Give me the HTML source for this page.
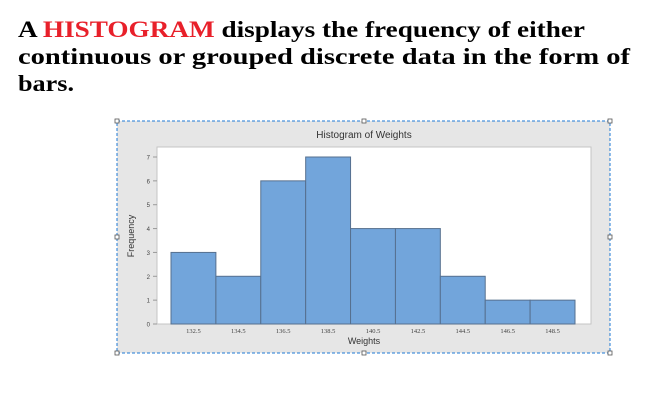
<!DOCTYPE html>
<html><head><meta charset="utf-8"><style>
html,body{margin:0;padding:0;background:#fff;width:669px;height:413px;overflow:hidden}
svg{display:block}
</style></head><body>
<svg width="669" height="413" viewBox="0 0 669 413" xmlns="http://www.w3.org/2000/svg">
<g font-family="Liberation Serif, serif" font-weight="bold" font-size="23">
<text x="18" y="37" textLength="567" lengthAdjust="spacingAndGlyphs">A <tspan fill="#e8202a">HISTOGRAM</tspan> displays the frequency of either</text>
<text x="18" y="64" textLength="612" lengthAdjust="spacingAndGlyphs">continuous or grouped discrete data in the form of</text>
<text x="18" y="91" textLength="56" lengthAdjust="spacingAndGlyphs">bars.</text>
</g>
<rect x="117" y="121" width="493" height="232" fill="#e6e6e6" stroke="#1f7ad6" stroke-dasharray="3,2" stroke-width="1"/>
<g fill="#fff" stroke="#555" stroke-width="0.8">
<rect x="115" y="119" width="4" height="4"/><rect x="362" y="119" width="4" height="4"/><rect x="608" y="119" width="4" height="4"/>
<rect x="115" y="235" width="4" height="4"/><rect x="608" y="235" width="4" height="4"/>
<rect x="115" y="351" width="4" height="4"/><rect x="362" y="351" width="4" height="4"/><rect x="608" y="351" width="4" height="4"/>
</g>
<rect x="157" y="147" width="434" height="177" fill="#fff" stroke="#c4c4c4"/>
<text x="364" y="138" font-family="Liberation Sans, sans-serif" font-size="10" text-anchor="middle" fill="#333">Histogram of Weights</text>
<text x="364" y="344" font-family="Liberation Sans, sans-serif" font-size="9" text-anchor="middle" fill="#333">Weights</text>
<text transform="translate(134,236) rotate(-90)" font-family="Liberation Sans, sans-serif" font-size="9" text-anchor="middle" fill="#333">Frequency</text>
<g id="bars"></g><g id="yt"></g><g id="xt"></g>
</svg>
<script>
const categories=["132.5","134.5","136.5","138.5","140.5","142.5","144.5","146.5","148.5"];
const counts=[3,2,6,7,4,4,2,1,1];
const yTicks=[0,1,2,3,4,5,6,7];
const NS="http://www.w3.org/2000/svg";
const x0=171,x1=575,y0=324,yUnit=(324-157)/7;
const bw=(x1-x0)/categories.length;
const X=i=>x0+i*bw, Y=v=>y0-v*yUnit;
const bars=document.getElementById('bars');
counts.forEach((v,i)=>{
 const r=document.createElementNS(NS,'rect');
 r.setAttribute('x',X(i));r.setAttribute('y',Y(v));r.setAttribute('width',bw);r.setAttribute('height',y0-Y(v));
 r.setAttribute('fill','#72a5db');r.setAttribute('stroke','#56708f');r.setAttribute('stroke-width','1');
 
 
 bars.appendChild(r);
});
const yt=document.getElementById('yt');
yTicks.forEach(t=>{
 const tx=document.createElementNS(NS,'text');
 tx.setAttribute('x',150);tx.setAttribute('y',Y(t)+2.5);tx.setAttribute('font-size','6');tx.setAttribute('text-anchor','end');
 tx.setAttribute('font-family','Liberation Sans, sans-serif');tx.setAttribute('fill','#444');tx.textContent=t;
 
 
 yt.appendChild(tx);
 const l=document.createElementNS(NS,'line');
 l.setAttribute('x1',153);l.setAttribute('x2',157);l.setAttribute('y1',Y(t));l.setAttribute('y2',Y(t));l.setAttribute('stroke','#999');
 
 
 yt.appendChild(l);
});
const xt=document.getElementById('xt');
categories.forEach((c,i)=>{
 const tx=document.createElementNS(NS,'text');
 tx.setAttribute('x',X(i)+bw/2);tx.setAttribute('y',333);tx.setAttribute('font-size','6.5');tx.setAttribute('text-anchor','middle');
 tx.setAttribute('font-family','Liberation Serif, serif');tx.setAttribute('fill','#444');tx.textContent=c;
 
 
 xt.appendChild(tx);
});
</script>
</body></html>
